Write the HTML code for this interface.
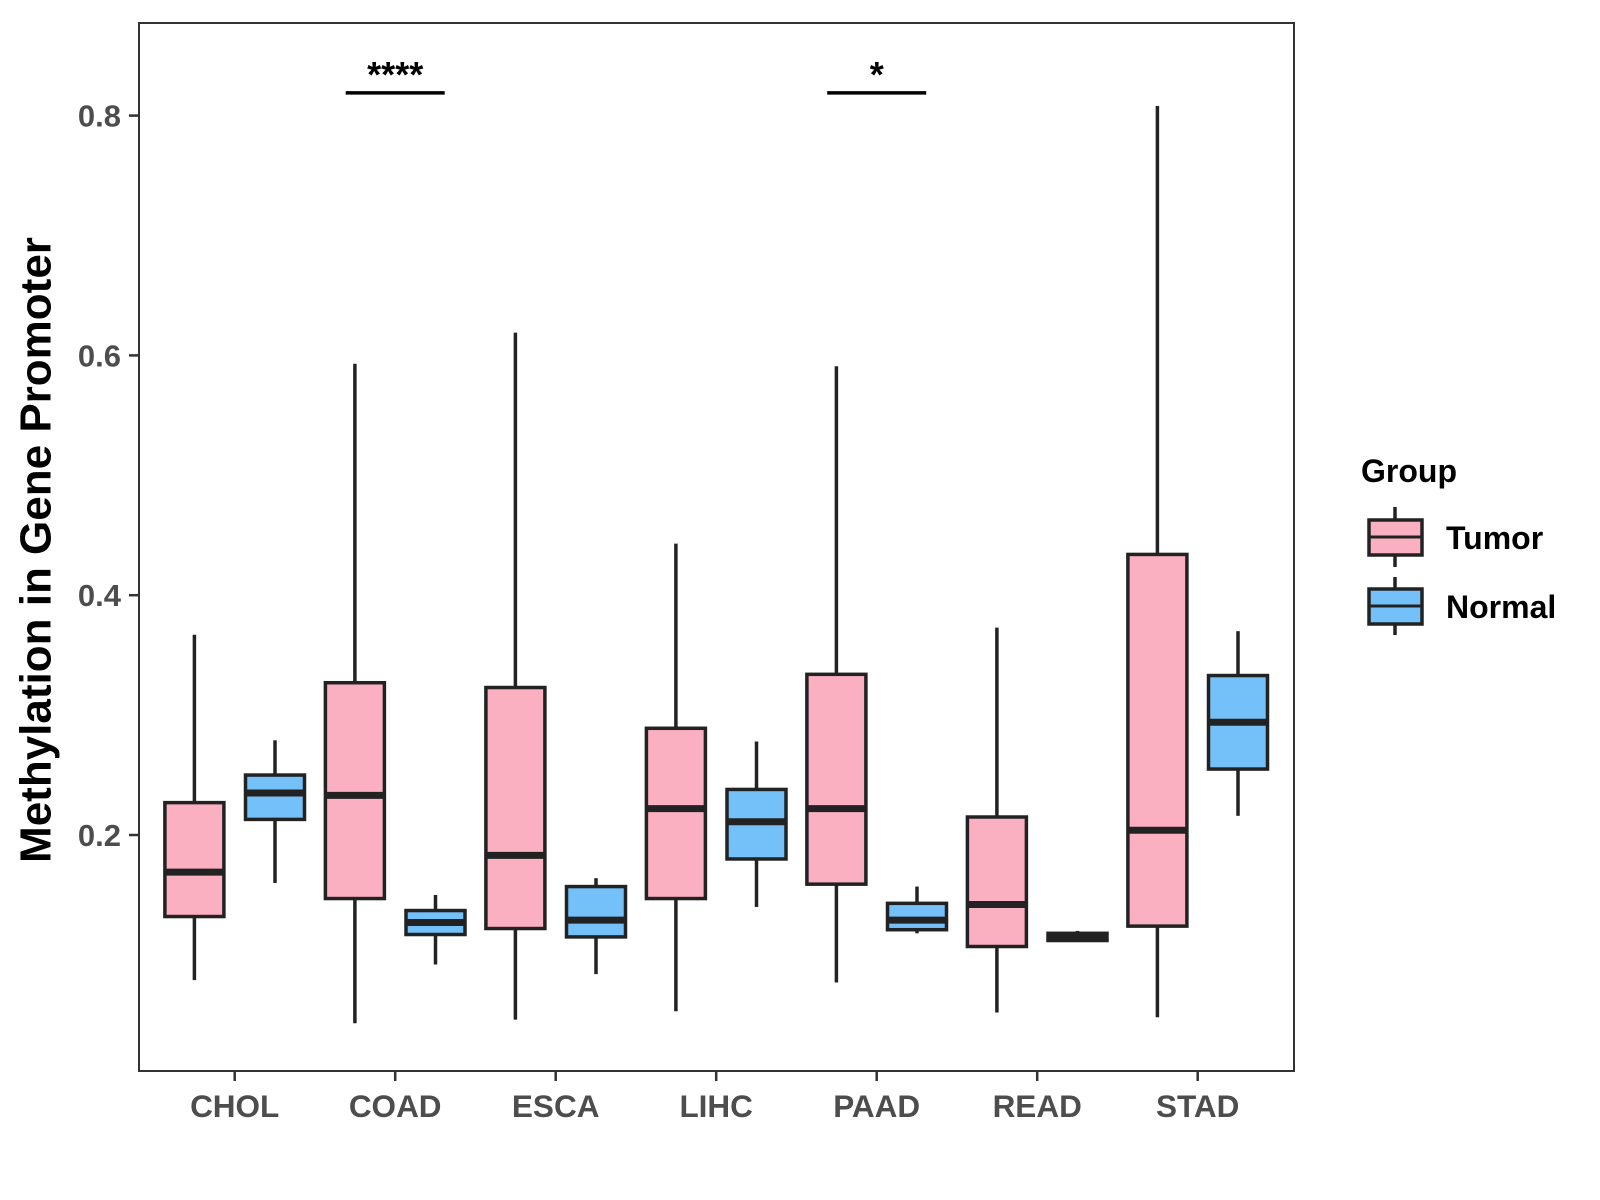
<!DOCTYPE html>
<html><head><meta charset="utf-8"><style>
html,body{margin:0;padding:0;background:#fff;}
svg{display:block;font-family:"Liberation Sans",sans-serif;}
</style></head><body>
<svg id="chart" width="1600" height="1200" viewBox="0 0 1600 1200">
<rect x="139" y="23" width="1155" height="1048" fill="#fff" stroke="#333" stroke-width="2"/>
<g id="marks"></g>
<g id="axes"></g>
<text x="39" y="550" transform="rotate(-90 39 550)" text-anchor="middle" dominant-baseline="middle" font-size="44" font-weight="bold" fill="#000">Methylation in Gene Promoter</text>
<g>
<text x="1361" y="482" font-size="32" font-weight="bold" fill="#000">Group</text>
<g>
<line x1="1395" y1="507" x2="1395" y2="567" stroke="#222" stroke-width="3.5"/>
<rect x="1369" y="520" width="53" height="35" fill="#FBB0C1" stroke="#222" stroke-width="3.5"/>
<line x1="1369" y1="537" x2="1422" y2="537" stroke="#222" stroke-width="3"/>
<text x="1446" y="549" font-size="32" font-weight="bold" fill="#000">Tumor</text>
</g>
<g>
<line x1="1395" y1="577" x2="1395" y2="635" stroke="#222" stroke-width="3.5"/>
<rect x="1369" y="589" width="53" height="35" fill="#74C0F8" stroke="#222" stroke-width="3.5"/>
<line x1="1369" y1="606" x2="1422" y2="606" stroke="#222" stroke-width="3"/>
<text x="1446" y="618" font-size="32" font-weight="bold" fill="#000">Normal</text>
</g>
</g>
</svg>
<script>
const categories = ["CHOL","COAD","ESCA","LIHC","PAAD","READ","STAD"];
// [lower whisker, q1, median, q3, upper whisker]
const tumorStats = [
 [0.079,0.132,0.169,0.227,0.367],
 [0.043,0.147,0.233,0.327,0.593],
 [0.046,0.122,0.183,0.323,0.619],
 [0.053,0.147,0.222,0.289,0.443],
 [0.077,0.159,0.222,0.334,0.591],
 [0.052,0.107,0.142,0.215,0.373],
 [0.048,0.124,0.204,0.434,0.808]
];
const normalStats = [
 [0.160,0.213,0.235,0.250,0.279],
 [0.092,0.117,0.127,0.137,0.150],
 [0.084,0.115,0.129,0.157,0.164],
 [0.140,0.180,0.211,0.238,0.278],
 [0.118,0.121,0.129,0.143,0.157],
 [0.112,0.112,0.116,0.118,0.120],
 [0.216,0.255,0.294,0.333,0.370]
];
const yTicks = [0.2,0.4,0.6,0.8];
const yTickLabels = ["0.2","0.4","0.6","0.8"];
const sigCategories = ["COAD","PAAD"];
const sigLabels = ["****","*"];
const sigHeight = 0.819;

const NS="http://www.w3.org/2000/svg";
function y(v){return 835-(v-0.2)*1199;}
function x(i){return 234.7+i*160.5;}
function mk(tag,attrs,parent){const e=document.createElementNS(NS,tag);for(const k in attrs)e.setAttribute(k,attrs[k]);parent.appendChild(e);return e;}
const marks=document.getElementById('marks');
const axes=document.getElementById('axes');
function drawBox(cx,s,fill,name){
  const g=mk('g',{},marks);
  
  
  mk('line',{x1:cx,x2:cx,y1:y(s[4]),y2:y(s[3]),stroke:'#222','stroke-width':3.5},g);
  mk('line',{x1:cx,x2:cx,y1:y(s[1]),y2:y(s[0]),stroke:'#222','stroke-width':3.5},g);
  mk('rect',{x:cx-29.5,y:y(s[3]),width:59,height:Math.max(1,y(s[1])-y(s[3])),fill:fill,stroke:'#222','stroke-width':3.5},g);
  mk('line',{x1:cx-29.5,x2:cx+29.5,y1:y(s[2]),y2:y(s[2]),stroke:'#222','stroke-width':7},g);
}
categories.forEach((c,i)=>{
  drawBox(x(i)-40.3,tumorStats[i],'#FBB0C1','box-tumor-'+c.toLowerCase());
  drawBox(x(i)+40.3,normalStats[i],'#74C0F8','box-normal-'+c.toLowerCase());
  mk('line',{x1:x(i),x2:x(i),y1:1071,y2:1081,stroke:'#333','stroke-width':2.5},axes);
  const t=mk('text',{x:x(i),y:1117,'text-anchor':'middle','font-size':31.5,'font-weight':'bold',fill:'#4d4d4d'},axes);
  t.textContent=c;
  
  
});
yTicks.forEach((v,i)=>{
  mk('line',{x1:129,x2:139,y1:y(v),y2:y(v),stroke:'#333','stroke-width':2.5},axes);
  const t=mk('text',{x:121,y:y(v)+11,'text-anchor':'end','font-size':31,'font-weight':'bold',fill:'#4d4d4d'},axes);
  t.textContent=yTickLabels[i];
  
  
});
sigCategories.forEach((c,k)=>{
  const i=categories.indexOf(c);
  const g=mk('g',{},marks);
  
  
  mk('line',{x1:x(i)-49.5,x2:x(i)+49.5,y1:y(sigHeight),y2:y(sigHeight),stroke:'#000','stroke-width':3.5},g);
  const t=mk('text',{x:x(i),y:y(sigHeight)-6,'text-anchor':'middle','font-size':36,'font-weight':'bold',fill:'#000'},g);
  t.textContent=sigLabels[k];
});
</script>
</body></html>
